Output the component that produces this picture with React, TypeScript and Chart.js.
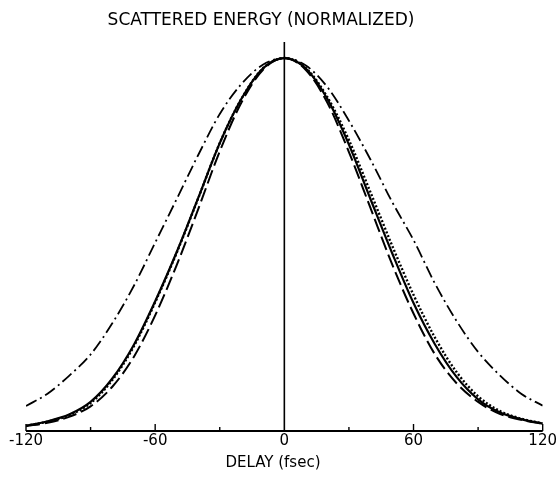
import React, { useEffect, useRef } from "react";
import { Chart, registerables } from "chart.js";

Chart.register(...registerables);

// Delay (fsec) sample points
const delays = [-120, -110, -100, -90, -80, -70, -60, -50, -40, -30, -20, -10, 0, 10, 20, 30, 40, 50, 60, 70, 80, 90, 100, 110, 120];

// Normalized scattered energy
const solidCurve = [0.014, 0.026, 0.044, 0.078, 0.14, 0.23, 0.348, 0.48, 0.625, 0.772, 0.89, 0.972, 1.0, 0.972, 0.89, 0.768, 0.622, 0.478, 0.343, 0.232, 0.145, 0.085, 0.05, 0.032, 0.02];
const dashedCurve = [0.013, 0.022, 0.038, 0.066, 0.118, 0.198, 0.31, 0.445, 0.595, 0.75, 0.88, 0.968, 1.0, 0.968, 0.88, 0.748, 0.598, 0.448, 0.315, 0.205, 0.128, 0.078, 0.046, 0.03, 0.019];
const dottedCurve = [0.014, 0.025, 0.042, 0.075, 0.136, 0.226, 0.345, 0.478, 0.624, 0.772, 0.89, 0.972, 1.0, 0.973, 0.895, 0.78, 0.64, 0.498, 0.365, 0.25, 0.158, 0.093, 0.054, 0.033, 0.02];
const dashDotCurve = [0.067, 0.1, 0.148, 0.205, 0.288, 0.388, 0.505, 0.622, 0.74, 0.85, 0.93, 0.982, 1.0, 0.98, 0.922, 0.832, 0.728, 0.615, 0.512, 0.395, 0.295, 0.212, 0.15, 0.1, 0.068];

// Axis ticks
const majorTicks = [-120, -60, 0, 60, 120];
const tickLabels = ["-120", "-60", "0", "60", "120"];
const minorTicks = [-90, -30, 30, 90];

const chartTitle = "SCATTERED ENERGY (NORMALIZED)";
const axisTitle = "DELAY (fsec)";

const FONT = "'DejaVu Sans', 'Liberation Sans', sans-serif";

export default function App() {
  const ref = useRef<HTMLCanvasElement>(null);

  useEffect(() => {
    const canvas = ref.current;
    if (!canvas) return;
    const pts = (ys: number[]) => delays.map((x, i) => ({ x, y: ys[i] }));

    const framePlugin = {
      id: "frame",
      afterDatasetsDraw(chart: any) {
        const { ctx, chartArea, scales } = chart;
        const xs = scales.x;
        const ys = scales.y;
        const y0 = ys.getPixelForValue(0);
        const xl = xs.getPixelForValue(-120);
        const xr = xs.getPixelForValue(120);
        const xz = xs.getPixelForValue(0);
        ctx.save();
        ctx.strokeStyle = "#000";
        ctx.setLineDash([]);
        // baseline
        ctx.lineWidth = 2;
        ctx.beginPath();
        ctx.moveTo(xl, y0);
        ctx.lineTo(xr, y0);
        ctx.stroke();
        // vertical axis at zero
        ctx.lineWidth = 1.6;
        ctx.beginPath();
        ctx.moveTo(xz, chartArea.top);
        ctx.lineTo(xz, y0);
        ctx.stroke();
        // ticks (pointing up)
        ctx.lineWidth = 1.4;
        majorTicks.forEach((v) => {
          if (v === 0) return;
          const px = xs.getPixelForValue(v);
          ctx.beginPath();
          ctx.moveTo(px, y0);
          ctx.lineTo(px, y0 - 7);
          ctx.stroke();
        });
        minorTicks.forEach((v) => {
          const px = xs.getPixelForValue(v);
          ctx.beginPath();
          ctx.moveTo(px, y0);
          ctx.lineTo(px, y0 - 4);
          ctx.stroke();
        });
        // texts
        ctx.fillStyle = "#000";
        ctx.textAlign = "center";
        ctx.textBaseline = "middle";
        ctx.font = `17px ${FONT}`;
        ctx.fillText(chartTitle, 261, 21);
        ctx.font = `15px ${FONT}`;
        ctx.fillText(axisTitle, 273, 463);
        ctx.restore();
      },
    };

    const common = {
      borderColor: "#000",
      pointRadius: 0,
      fill: false,
      cubicInterpolationMode: "monotone" as const,
    };

    const chart = new Chart(canvas, {
      type: "line",
      data: {
        datasets: [
          { ...common, label: "dash-dot", data: pts(dashDotCurve), borderWidth: 1.8, borderDash: [12, 4, 2, 4] },
          { ...common, label: "dashed", data: pts(dashedCurve), borderWidth: 2, borderDash: [14, 5] },
          { ...common, label: "dotted", data: pts(dottedCurve), borderWidth: 2.4, borderDash: [2, 2] },
          { ...common, label: "solid", data: pts(solidCurve), borderWidth: 2.2 },
        ],
      },
      options: {
        animation: false,
        responsive: false,
        devicePixelRatio: 1,
        layout: { padding: { top: 42, left: 26, right: 15, bottom: 26 } },
        plugins: {
          legend: { display: false },
          tooltip: { enabled: false },
          title: { display: false },
        },
        scales: {
          x: {
            type: "linear",
            min: -120,
            max: 120,
            grid: { display: false, drawTicks: false },
            border: { display: false },
            afterBuildTicks: (scale: any) => {
              scale.ticks = majorTicks.map((v) => ({ value: v }));
            },
            ticks: {
              autoSkip: false,
              maxRotation: 0,
              padding: 1,
              color: "#000",
              font: { family: FONT, size: 15 },
              callback: (v: any) => {
                const i = majorTicks.indexOf(Number(v));
                return i >= 0 ? tickLabels[i] : "";
              },
            },
          },
          y: {
            display: false,
            min: 0,
            max: 1.043,
          },
        },
      },
      plugins: [framePlugin],
    });

    return () => chart.destroy();
  }, []);

  return (
    <div style={{ position: "absolute", left: 0, top: 0, width: 558, height: 477, background: "#fff" }}>
      <canvas ref={ref} width={558} height={477} />
    </div>
  );
}
